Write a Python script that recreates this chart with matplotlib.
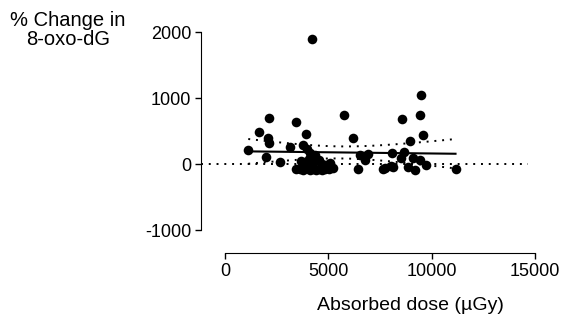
import numpy as np
import matplotlib.pyplot as plt

plt.rcParams['font.family'] = ['Liberation Sans', 'DejaVu Sans']
plt.rcParams['axes.unicode_minus'] = False

# absorbed dose (uGy) and % change in 8-oxo-dG
dose = np.array([
    1130, 1660, 2090, 2120, 2120, 1980, 2660, 3140, 3460, 3780, 3910, 3980, 4200,
    3450, 3650, 3800, 3950, 4100, 4250, 4400, 4550, 4700, 4850, 5050, 5250,
    3900, 4050, 4250, 4350, 4550, 4700, 4900, 4100, 3700, 5100,
    5750, 6180, 6440, 6760, 6920, 6520,
    7650, 7730, 8050, 8080, 8130, 8530, 8560, 8650, 8850, 8980, 9100, 9180,
    9420, 9420, 9500, 9580, 9740, 11160,
])
change = np.array([
    210, 490, 390, 320, 692, 111, 35, 253, 641, 288, 450, 222, 1900,
    -70, -80, -90, -60, -90, -70, -90, -80, -90, -70, -80, -65,
    30, 80, 20, 130, 60, 0, -20, 160, 40, 10,
    742, 390, -80, 60, 147, 136,
    -80, -65, -30, 162, -40, 86, 682, 186, -40, 353, 86, -91,
    60, 742, 1045, 439, -15, -80,
])

# linear fit with 95% confidence band
n = len(dose)
slope, intercept = np.polyfit(dose, change, 1)
resid = change - (slope * dose + intercept)
s = np.sqrt(np.sum(resid ** 2) / (n - 2))
xm = dose.mean()
sxx = np.sum((dose - xm) ** 2)
xf = np.linspace(dose.min(), dose.max(), 100)
yf = slope * xf + intercept
half = 2.0 * s * np.sqrt(1 / n + (xf - xm) ** 2 / sxx)

fig = plt.figure(figsize=(5.66, 3.27), dpi=100)
ax = fig.add_axes([0.355, 0.2263, 0.59, 0.6757])

ax.axhline(0, xmax=0.98, color='black', lw=1.4, ls=(0, (1, 3)))
ax.scatter(dose, change, s=48, color='black', zorder=3, clip_on=False, linewidths=0)
ax.plot(xf, yf, color='black', lw=1.5)
ax.plot(xf, yf + half, color='black', lw=1.4, ls=(0, (1, 3)))
ax.plot(xf, yf - half, color='black', lw=1.4, ls=(0, (1, 3)))

ax.set_xlim(-1160, 15000)
ax.set_ylim(-1348, 2000)
ax.spines['top'].set_visible(False)
ax.spines['right'].set_visible(False)
ax.spines['left'].set_bounds(-1000, 2000)
ax.spines['bottom'].set_bounds(0, 15000)
ax.set_xticks([0, 5000, 10000, 15000])
ax.set_yticks([-1000, 0, 1000, 2000])
ax.tick_params(labelsize=13, length=4, width=1, pad=3)

ax.set_xlabel('Absorbed dose (µGy)', fontsize=14)
ax.xaxis.set_label_coords(0.626, -0.2)
fig.text(0.12, 0.965, '% Change in\n8-oxo-dG', ha='center', va='top', fontsize=14.5,
         linespacing=1.0)

fig.savefig('out.png', dpi=100)
